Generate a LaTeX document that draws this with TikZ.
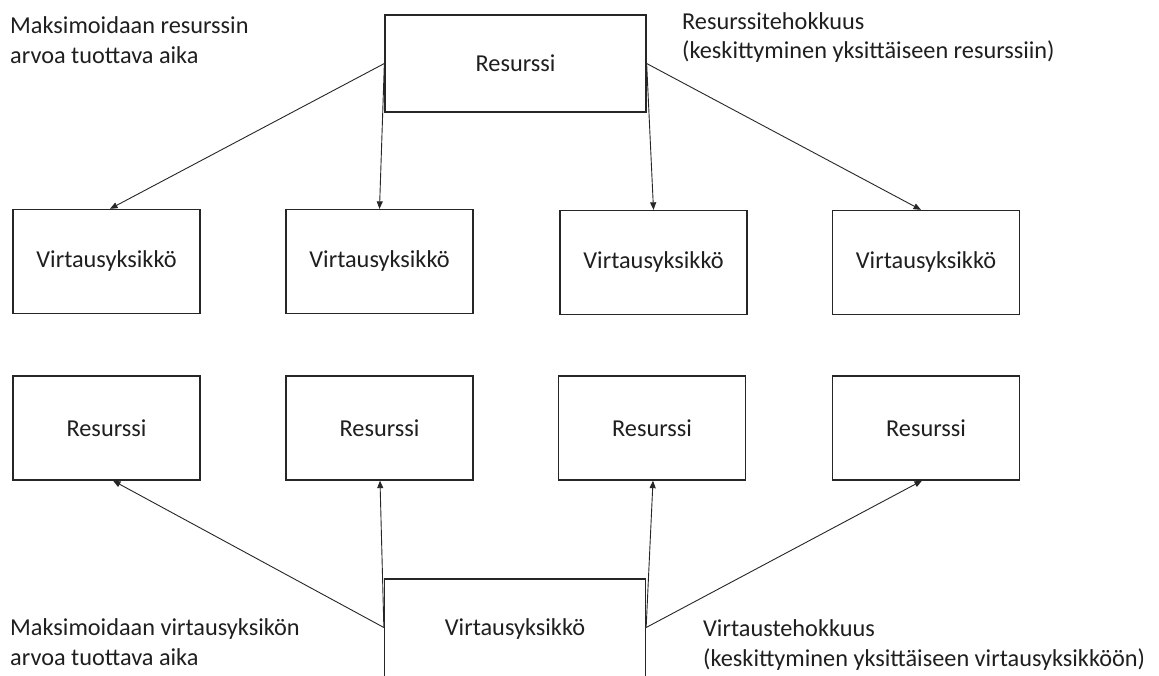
\documentclass[tikz,border=0pt]{standalone}
\usepackage{fontspec}
\setmainfont{Carlito}
\usetikzlibrary{arrows.meta,calc}
\begin{document}
\begin{tikzpicture}[x=1pt,y=-1pt,
  every node/.style={font=\fontsize{24.3}{29.5}\selectfont, text=black!88},
  box/.style={draw=black!85, line width=1.3pt, rectangle, inner sep=0pt},
  smallbox/.style={box, minimum width=187pt, minimum height=104pt},
  bigbox/.style={box, minimum width=261pt, minimum height=97pt},
  conn/.style={draw=black!85, line width=0.9pt, -{Triangle[length=7.5pt,width=6pt]}},
  lbl/.style={anchor=base west, align=left, inner sep=0pt}]
\useasboundingbox (0,0) rectangle (1159,675);
\fill[white] (0,0) rectangle (1159,675);

% top resource
\node[bigbox] (top) at (515.5,63.5) {Resurssi};
% row 1: flow units
\node[smallbox] (v1) at (106.5,261.5) {Virtausyksikkö};
\node[smallbox] (v2) at (379.5,261.5) {Virtausyksikkö};
\node[smallbox] (v3) at (653.5,262.5) {Virtausyksikkö};
\node[smallbox] (v4) at (926,262.5) {Virtausyksikkö};
% row 2: resources
\node[smallbox] (r1) at (106.5,428) {Resurssi};
\node[smallbox] (r2) at (379.5,428) {Resurssi};
\node[smallbox] (r3) at (652,428) {Resurssi};
\node[smallbox] (r4) at (926,428) {Resurssi};
% bottom flow unit
\node[bigbox, minimum height=100pt] (bot) at (515,629) {\raisebox{1.5pt}{Virtausyksikkö}};

% connectors
\draw[conn] (top.west) -- ([xshift=3.5pt]v1.north);
\draw[conn] (top.west) -- (v2.north);
\draw[conn] (top.east) -- (v3.north);
\draw[conn] (top.east) -- ([xshift=-5pt]v4.north);
\coordinate (bw) at ($(bot.west)+(0,-1.5)$);
\coordinate (be) at ($(bot.east)+(0,-1.5)$);
\draw[conn] (bw) -- ([xshift=6.5pt]r1.south);
\draw[conn] (bw) -- ([xshift=0.5pt]r2.south);
\draw[conn] (be) -- ([xshift=1pt]r3.south);
\draw[conn] (be) -- ([xshift=-4pt]r4.south);

% labels (base anchor = baseline of the last line)
\node[lbl] (t1) at (10,63) {Maksimoidaan resurssin\\arvoa tuottava aika};
\node[lbl] (t2) at (682,58.5) {Resurssitehokkuus\\(keskittyminen yksittäiseen resurssiin)};
\node[lbl] (t3) at (10,665) {Maksimoidaan virtausyksikön\\arvoa tuottava aika};
\node[lbl] (t4) at (703,666) {Virtaustehokkuus\\(keskittyminen yksittäiseen virtausyksikköön)};
\end{tikzpicture}
\end{document}
